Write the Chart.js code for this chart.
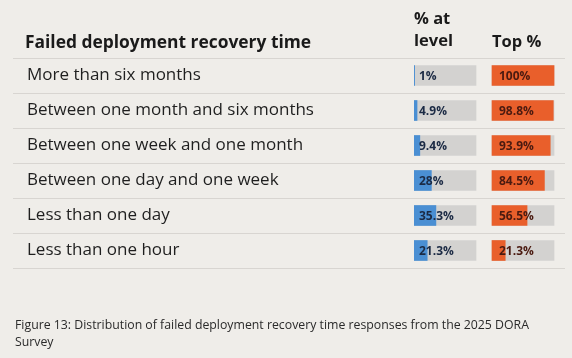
<!DOCTYPE html>
<html>
<head>
<meta charset="utf-8">
<script src="https://cdn.jsdelivr.net/npm/chart.js@4.4.1/dist/chart.umd.min.js"></script>
<style>
  html, body { margin: 0; padding: 0; background: #efede9; }
  body { width: 572px; height: 358px; position: relative; overflow: hidden; font-family: "Open Sans", sans-serif; color: #1f1f1f; }
  #wrap { position: absolute; left: 0; top: 0; width: 572px; height: 358px; }
  .hd { position: absolute; font-weight: bold; font-size: 16.5px; line-height: 22px; color: #1a1a1a; }
  #caption { position: absolute; left: 15px; top: 316px; font-size: 12.3px; line-height: 17px; color: #2a2a2a; white-space: nowrap; }
</style>
</head>
<body>
<div id="wrap"><canvas id="recovery-chart"></canvas></div>
<div class="hd" style="left:25px; top:30px; font-size:17.4px;">Failed deployment recovery time</div>
<div class="hd" style="left:414px; top:7px;">% at<br>level</div>
<div class="hd" style="left:492px; top:30px;">Top %</div>
<div id="caption">Figure 13: Distribution of failed deployment recovery time responses from the 2025 DORA<br>Survey</div>

<script>
// rows of the table
const categories = [
    'More than six months',
    'Between one month and six months',
    'Between one week and one month',
    'Between one day and one week',
    'Less than one day',
    'Less than one hour'
];
const levelPct = [1, 4.9, 9.4, 28, 35.3, 21.3];
const topPct = [100, 98.8, 93.9, 84.5, 56.5, 21.3];
const levelLabels = ['1%', '4.9%', '9.4%', '28%', '35.3%', '21.3%'];
const topLabels = ['100%', '98.8%', '93.9%', '84.5%', '56.5%', '21.3%'];

// where the second column of bars starts on the x scale (layout only)
const TOP_START = 125.8;

const ctx = document.getElementById('recovery-chart').getContext('2d');

// draws the value text inside each filled bar
const barTextPlugin = {
    id: 'barText',
    afterDatasetsDraw(chart) {
        const c = chart.ctx;
        c.save();
        c.font = 'bold 12px "Open Sans"';
        c.textBaseline = 'middle';
        c.textAlign = 'left';
        chart.data.datasets.forEach((ds, i) => {
            if (!ds.texts) return;
            const meta = chart.getDatasetMeta(i);
            meta.data.forEach((bar, j) => {
                c.fillStyle = ds.textColor;
                c.fillText(ds.texts[j], bar.base + ds.textPad, bar.y + 1);
            });
        });
        c.restore();
    }
};

const chart = new Chart(ctx, {
    type: 'bar',
    data: {
        labels: categories,
        datasets: [
            {
                label: '% at level',
                data: levelPct.map(v => [0, v]),
                backgroundColor: '#4a8fd3',
                texts: levelLabels,
                textColor: '#1b2a44',
                textPad: 5,
                order: 0
            },
            {
                label: 'Top %',
                data: topPct.map(v => [TOP_START, TOP_START + v]),
                backgroundColor: '#e95f2b',
                texts: topLabels,
                textColor: '#4a1a10',
                textPad: 7,
                order: 0
            },
            {
                label: 'level track',
                data: levelPct.map(() => [0, 100]),
                backgroundColor: '#d3d2d0',
                order: 1
            },
            {
                label: 'top track',
                data: topPct.map(() => [TOP_START, TOP_START + 100]),
                backgroundColor: '#d3d2d0',
                order: 1
            }
        ]
    },
    options: {
        indexAxis: 'y',
        responsive: true,
        maintainAspectRatio: false,
        animation: false,
        layout: { padding: { left: 27, right: 7, top: 58, bottom: 90 } },
        datasets: {
            bar: { grouped: false, barThickness: 20, borderWidth: 0 }
        },
        scales: {
            x: {
                display: false,
                min: 0,
                max: 243.5
            },
            y: {
                offset: true,
                border: { display: false },
                grid: {
                    offset: true,
                    color: '#d8d5d1',
                    tickColor: '#d8d5d1',
                    lineWidth: 1,
                    drawTicks: true,
                    tickLength: 401
                },
                ticks: {
                    crossAlign: 'far',
                    padding: 0,
                    color: '#1f1f1f',
                    font: { family: '"Open Sans"', size: 17 }
                },
                afterFit(scale) {
                    scale.width = 387;
                }
            }
        },
        plugins: {
            legend: { display: false },
            tooltip: { enabled: false }
        }
    },
    plugins: [barTextPlugin]
});
</script>
</body>
</html>
